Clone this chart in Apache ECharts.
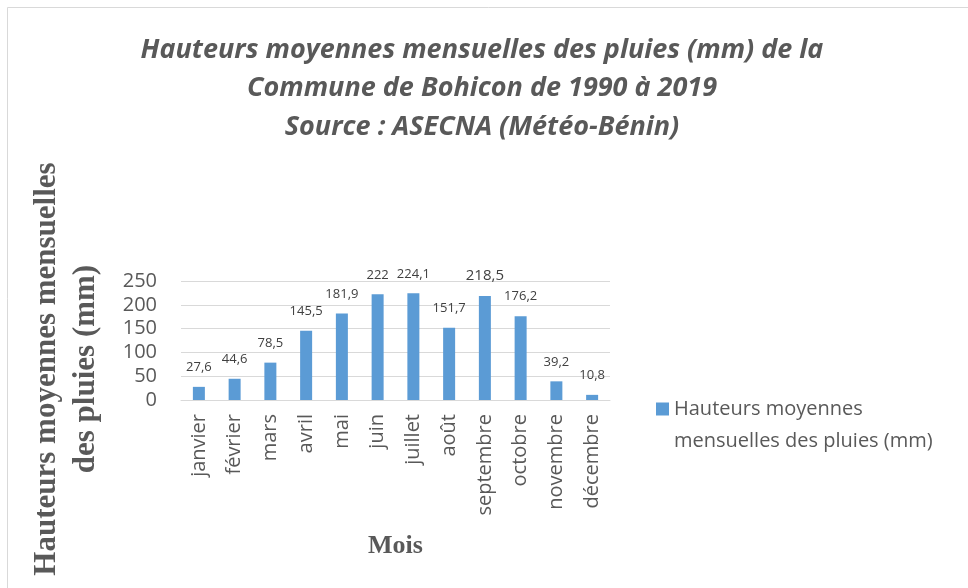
<!DOCTYPE html>
<html><head><meta charset="utf-8">
<script src="https://cdn.jsdelivr.net/npm/echarts@6/dist/echarts.min.js"></script>
<style>html,body{margin:0;padding:0;background:#fff}#c{width:968px;height:588px}</style>
</head><body><div id="c"></div>
<script>
const months = ['janvier','février','mars','avril','mai','juin','juillet','août','septembre','octobre','novembre','décembre'];
const rainfall = [27.6, 44.6, 78.5, 145.5, 181.9, 222, 224.1, 151.7, 218.5, 176.2, 39.2, 10.8];
const yTicks = [0, 250, 50];
const seriesName = 'Hauteurs moyennes mensuelles des pluies (mm)';

const chart = echarts.init(document.getElementById('c'), null, {renderer:'canvas'});
const fmt = v => String(v).replace('.', ',');
chart.setOption({
  animation:false,
  backgroundColor:'#fff',
  title:{
    text:'Hauteurs moyennes mensuelles des pluies (mm) de la\nCommune de Bohicon de 1990 à 2019\nSource : ASECNA (Météo-Bénin)',
    left:477, top:26, textAlign:'center',
    textStyle:{fontFamily:'Open Sans', fontStyle:'italic', fontWeight:'bold', fontSize:27, color:'#595959', lineHeight:38.5}
  },
  graphic:[
    {type:'rect', shape:{x:7.5,y:7.5,width:2000,height:2000}, style:{fill:'none', stroke:'#d9d9d9', lineWidth:1}, silent:true},
    {type:'text', x:66, y:369, rotation:Math.PI/2, style:{text:'Hauteurs moyennes mensuelles\ndes pluies (mm)', textAlign:'center', textVerticalAlign:'middle', font:'bold 31px "Liberation Serif"', fill:'#595959', lineHeight:39}}
  ],
  legend:{
    data:[seriesName], left:651, top:356, orient:'vertical',
    icon:'rect', itemWidth:13, itemHeight:13, itemGap:4,
    formatter: () => '\nHauteurs moyennes\nmensuelles des pluies (mm)',
    textStyle:{fontFamily:'Open Sans', fontSize:20, color:'#595959', lineHeight:32}
  },
  grid:{left:181, right:358, top:281, height:119, containLabel:false},
  xAxis:{
    type:'category', data:months,
    axisLine:{lineStyle:{color:'#d9d9d9'}}, axisTick:{show:false},
    axisLabel:{rotate:90, color:'#595959', fontFamily:'Open Sans', fontSize:20, margin:14, interval:0},
    name:'Mois', nameLocation:'middle', nameGap:133,
    nameTextStyle:{fontFamily:'Liberation Serif', fontWeight:'bold', fontSize:26, color:'#595959'}
  },
  yAxis:{
    type:'value', min:yTicks[0], max:yTicks[1], interval:yTicks[2],
    axisLine:{show:false}, axisTick:{show:false},
    splitLine:{lineStyle:{color:'#d9d9d9', width:1}},
    axisLabel:{color:'#595959', fontFamily:'Open Sans', fontSize:20, margin:24}
  },
  series:[{
    name:seriesName, type:'bar', data:rainfall.map((v,i)=>({value:v, label: i===8 ? {fontSize:15} : {}})),
    barWidth:12, itemStyle:{color:'#5b9bd5'},
    label:{show:true, position:'top', distance:13, formatter:p=>fmt(p.value), color:'#404040', fontFamily:'Open Sans', fontSize:13}
  }]
});
</script></body></html>
